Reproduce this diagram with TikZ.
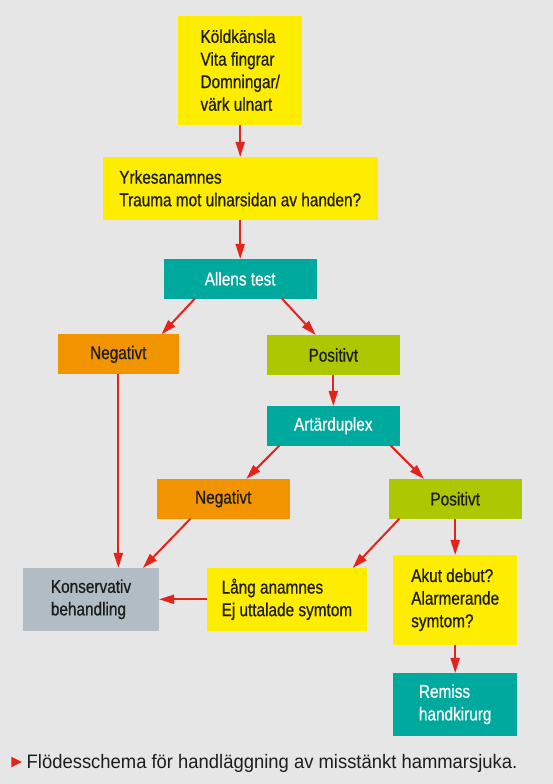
\documentclass[tikz,border=0pt]{standalone}
\usepackage{fontspec}
\setmainfont{Liberation Sans}[FakeStretch=0.83,FakeBold=0.7]
\newfontfamily\bildtextfont{Liberation Sans}[FakeStretch=0.945]
\usepackage{tikz}
\usetikzlibrary{calc,arrows.meta}

\definecolor{bakgrund}{HTML}{E6E6E6}
\definecolor{gulfarg}{HTML}{FFED00}
\definecolor{turkos}{HTML}{00A99D}
\definecolor{orangefarg}{HTML}{F29400}
\definecolor{gronfarg}{HTML}{ADC700}
\definecolor{grafarg}{HTML}{B2BCC5}
\definecolor{rodfarg}{HTML}{E3241B}
\definecolor{textfarg}{HTML}{1D1D1B}

\begin{document}
\begin{tikzpicture}[x=1pt,y=-1pt,
    ruta/.style={fill=#1, inner sep=0pt, outer sep=0pt, align=left, text=textfarg,
                 font=\fontsize{18.5}{22.6}\selectfont},
    pil/.style={draw=rodfarg, line width=2pt, -{Triangle[length=15pt,width=9pt]}}]
        % Bakgrund, hela bilden
        \fill[bakgrund] (0,0) rectangle (553,784);
        \useasboundingbox (0,0) rectangle (553,784);

        % Rutorna
        \node[ruta=gulfarg, minimum width=123.5pt, minimum height=109pt] (kold) at (240.2,70.2)
            {Köldkänsla\\Vita fingrar\\Domningar/\\värk ulnart};
        \node[ruta=gulfarg, minimum width=274.8pt, minimum height=62.7pt] (yrkes) at (240.2,188.3)
            {Yrkesanamnes\\Trauma mot ulnarsidan av handen?};
        \node[ruta=turkos, text=white, minimum width=152.7pt, minimum height=39.7pt] (allens) at (240.2,278.8) {Allens test};
        \node[ruta=orangefarg, minimum width=121pt, minimum height=40pt] (neg1) at (118.3,354.3) {Negativt};
        \node[ruta=gronfarg, minimum width=132.6pt, minimum height=40pt] (pos1) at (333.3,355) {Positivt};
        \node[ruta=turkos, text=white, minimum width=132.6pt, minimum height=39.7pt] (artar) at (333.3,425.8) {Artärduplex};
        \node[ruta=orangefarg, minimum width=132.6pt, minimum height=39.7pt] (neg2) at (223.3,498.8) {Negativt};
        \node[ruta=gronfarg, minimum width=132.6pt, minimum height=39.7pt] (pos2) at (455.2,498.8) {Positivt};
        \node[ruta=grafarg, minimum width=136.2pt, minimum height=62.7pt] (kons) at (91,599.3)
            {Konservativ\\behandling};
        \node[ruta=gulfarg, minimum width=159.8pt, minimum height=62.7pt] (lang) at (286.9,599.3)
            {Lång anamnes\\Ej uttalade symtom};
        \node[ruta=gulfarg, minimum width=123.7pt, minimum height=89.7pt] (akut) at (455.2,599.8)
            {Akut debut?\\Alarmerande\\symtom?};
        \node[ruta=turkos, text=white, minimum width=123.7pt, minimum height=62.7pt] (remiss) at (455.2,704.3)
            {Remiss\\handkirurg};

        % Pilar
        \draw[pil] (kold) -- (yrkes);
        \draw[pil] (yrkes) -- (allens);
        \draw[pil] ([xshift=-45.4pt]allens.south) -- ([xshift=43.2pt]neg1.north);
        \draw[pil] ([xshift=41.8pt]allens.south) -- ([xshift=-17.6pt]pos1.north);
        \draw[pil] (pos1) -- (artar);
        \draw[pil] ([xshift=-53.9pt]artar.south) -- ([xshift=22.9pt]neg2.north);
        \draw[pil] ([xshift=57.5pt]artar.south) -- ([xshift=-31.1pt]pos2.north);
        \draw[pil] (neg1.south) -- (neg1.south |- kons.north);
        \draw[pil] ([xshift=-32.8pt]neg2.south) -- ([xshift=51.9pt]kons.north);
        \draw[pil] (lang) -- (kons);
        \draw[pil] ([xshift=-55.8pt]pos2.south) -- ([xshift=65.8pt]lang.north);
        \draw[pil] (pos2) -- (akut);
        \draw[pil] (akut) -- (remiss);

        % Bildtext
        \fill[rodfarg] (11.3,756.7) -- (21.9,762) -- (11.3,767.3) -- cycle;
        \node[anchor=base west, inner sep=0pt, text=textfarg,
              font=\bildtextfont\fontsize{19.5}{23}\selectfont] (bildtext) at (26.5,768.3)
            {Flödesschema för handläggning av misstänkt hammarsjuka.};
    \end{tikzpicture}
\end{document}
